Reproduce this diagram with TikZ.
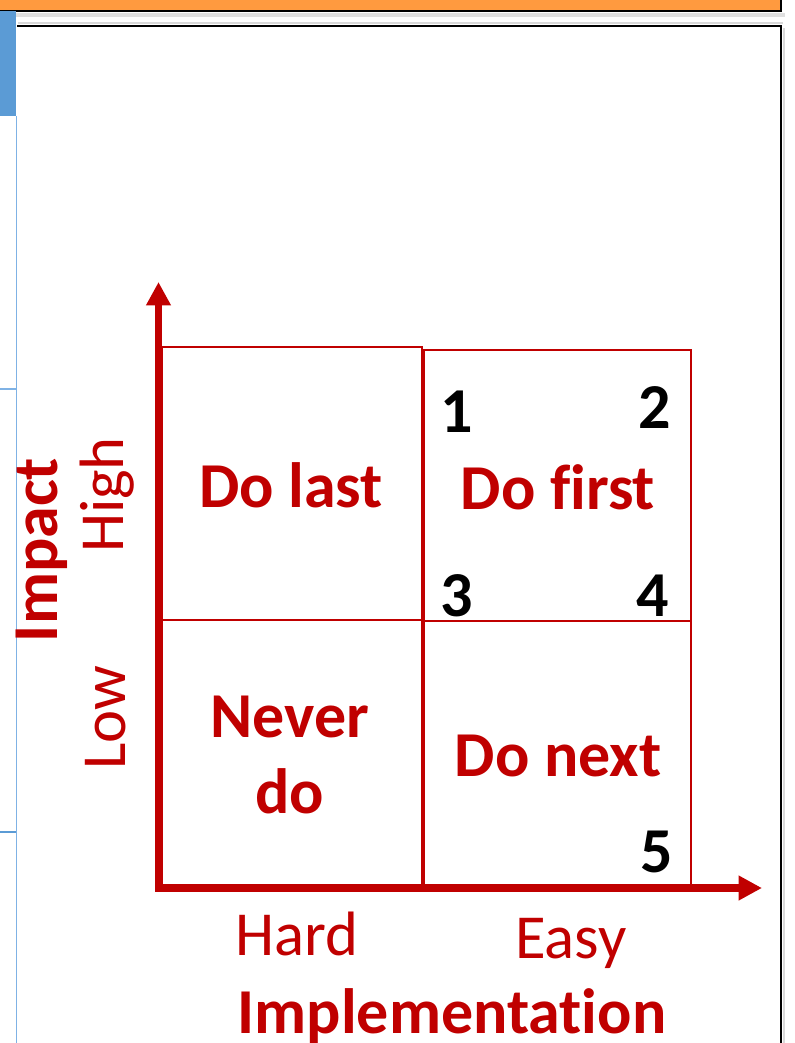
\documentclass[tikz,border=0pt]{standalone}
\usepackage{fontspec}
\setmainfont{Carlito}[Ligatures={NoCommon}]
\usetikzlibrary{arrows.meta}
\definecolor{axred}{HTML}{C00000}
\definecolor{barorange}{HTML}{FF9A3F}
\definecolor{sideblue}{HTML}{5B9BD5}
\definecolor{lineblue}{HTML}{7FB2E5}
\begin{document}
\begin{tikzpicture}[x=0.75pt,y=-0.75pt,
  quad/.style={draw=axred, line width=1.5pt, rectangle, inner sep=0pt},
  axis/.style={draw=axred, line width=5.5pt, -{Triangle[length=17.5pt,width=17.5pt]}},
  big/.style={font=\fontsize{48}{57}\selectfont\bfseries, text=axred, anchor=base, inner sep=0pt},
  num/.style={font=\fontsize{48}{57}\selectfont\bfseries, text=black, anchor=base, inner sep=0pt},
  lvl/.style={font=\fontsize{47}{56}\selectfont, text=axred, anchor=base, inner sep=0pt},
  frame/.style={draw=black, line width=1.5pt},
  shade/.style={draw=black!15, line width=2pt},
]
\useasboundingbox (0,0) rectangle (794,1043);
% top orange bar
\fill[black!12] (2,13) rectangle (785,17);
\fill[barorange] (-2,-2) rectangle (781,11);
\draw[frame] (-2,11) -- (781,11) -- (781,-2);
% left blue tab and guide lines
\fill[sideblue] (0,11) rectangle (16,116);
\draw[lineblue, line width=1.2pt] (16.5,116) -- (16.5,1045);
\draw[lineblue, line width=1pt] (0,389) -- (16,389);
\draw[sideblue, line width=1pt] (0,832) -- (16,832);
% panel
\draw[shade] (18,23) -- (783,23);
\draw[shade] (784,28) -- (784,1045);
\draw[frame] (17,26) -- (781,26) -- (781,1045);
% quadrants
\node[quad, minimum width=195pt, minimum height=204.75pt] (dolast) at (292,483.5) {};
\node[quad, minimum width=200.25pt, minimum height=203.25pt] (dofirst) at (557.5,485.5) {};
\node[quad, minimum width=195pt, minimum height=199.5pt] (neverdo) at (292,753) {};
\node[quad, minimum width=200.25pt, minimum height=198.75pt] (donext) at (557.5,753.5) {};
% axes
\coordinate (o) at (158.5,888);
\coordinate (ytip) at (158.5,282);
\coordinate (xtip) at (762,888);
\draw[axis] (158.5,891) -- (ytip);
\draw[axis] (155,888) -- (xtip);
% quadrant labels
\node[big] (tlast) at (291,507) {Do last};
\node[big] (tfirst) at (558,509) {Do first};
\node[big] (tnever) at (290,737) {Never};
\node[big] (tdo) at (290,813) {do};
\node[big] (tnext) at (558,776) {Do next};
% numbers
\node[num] (n1) at (457,432) {1};
\node[num] (n2) at (655,428) {2};
\node[num] (n3) at (457,616) {3};
\node[num] (n4) at (653,616) {4};
\node[num] (n5) at (657,872) {5};
% axis labels
\node[lvl] (hard) at (297,955) {Hard};
\node[lvl] (easy) at (571,958) {Easy};
\node[big] (impl) at (452,1033) {Implementation};
\node[big, rotate=90] (impact) at (57,550) {Impact};
\node[lvl, rotate=90] (high) at (123,495) {High};
\node[lvl, rotate=90] (low) at (125,718) {Low};
\end{tikzpicture}
\end{document}
